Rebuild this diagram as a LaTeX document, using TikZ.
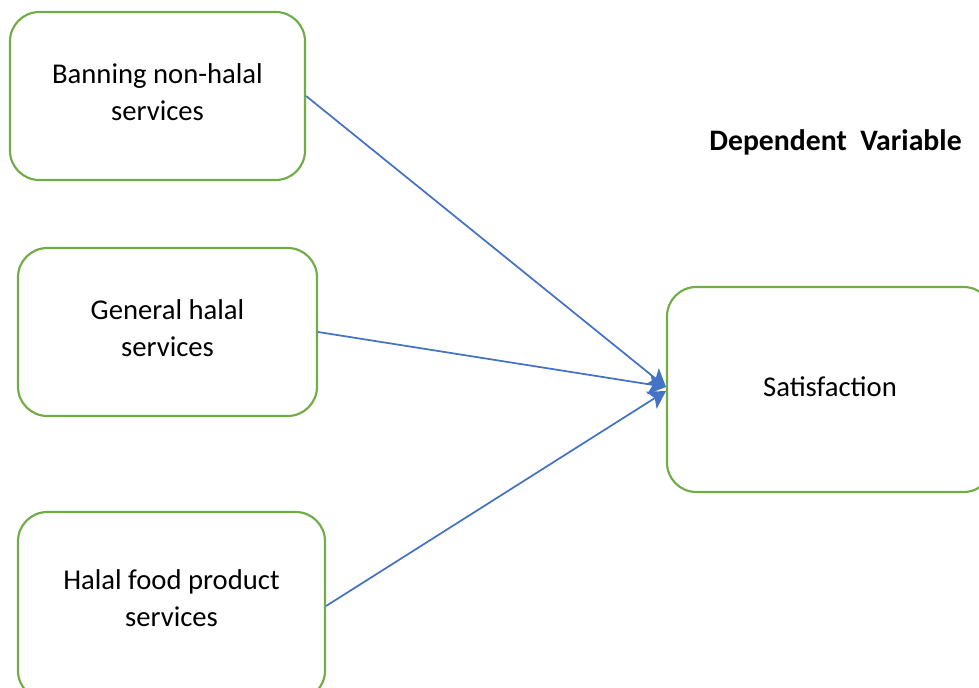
\documentclass[tikz,border=0pt]{standalone}
\usepackage{fontspec}
\setmainfont{Carlito}
\usepackage{tikz}
\usetikzlibrary{arrows.meta}

\definecolor{boxgreen}{RGB}{112,173,71}
\definecolor{arrowblue}{RGB}{68,114,196}

\begin{document}
\begin{tikzpicture}[
            x=0.75pt, y=-0.75pt,
            varbox/.style={draw=boxgreen, line width=1.6pt, rectangle, rounded corners=22pt, align=center, font=\fontsize{21.5}{27.75}\selectfont, inner sep=0pt},
            link/.style={draw=arrowblue, line width=1.3pt, -{Stealth[length=13pt, width=15pt, inset=3pt]}}
        ]
            \useasboundingbox (0,0) rectangle (979,688);
            \node[varbox, minimum width=221.25pt, minimum height=126pt, text depth=6pt] (ban) at (157.5,96) {Banning non-halal\\services};
            \node[varbox, minimum width=224.25pt, minimum height=126pt, text depth=6pt] (gen) at (167.5,332) {General halal\\services};
            \node[varbox, minimum width=230.25pt, minimum height=141pt, text depth=12pt] (food) at (171.5,606) {Halal food product\\services};
            \node[varbox, minimum width=244.5pt, minimum height=153.75pt, text depth=4.5pt] (sat) at (830,389.5) {Satisfaction};
            \node[font=\fontsize{22.3}{27.75}\selectfont\bfseries] (dep) at (835.5,142) {Dependent\ \ Variable};

            \coordinate (tip) at (666,387);
            \draw[link] (ban.east) -- (tip);
            \draw[link] (gen.east) -- (tip);
            \draw[link] (food.east) -- ([yshift=-3pt]tip);
        \end{tikzpicture}
\end{document}
